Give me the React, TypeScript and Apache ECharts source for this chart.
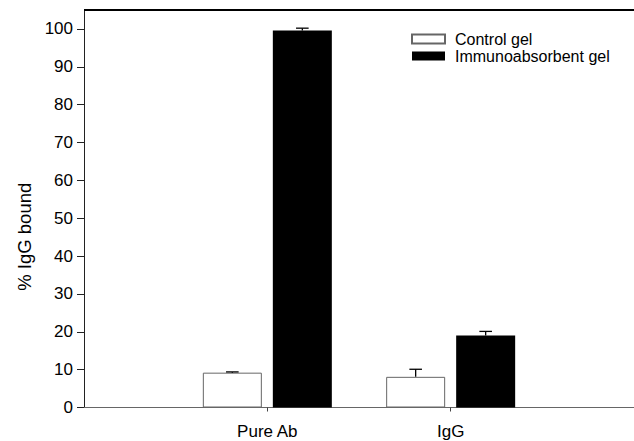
import React, { useEffect, useRef } from "react";
import * as echarts from "echarts";

const categories = ["Pure Ab", "IgG"];
const categoryPositions = [1, 2];
const seriesNames = ["Control gel", "Immunoabsorbent gel"];
const controlValues = [9.2, 8.1];
const controlErrors = [0.2, 2.0];
const immunoValues = [99.6, 19.0];
const immunoErrors = [0.6, 1.1];
const yTicks = [0, 10, 20, 30, 40, 50, 60, 70, 80, 90, 100];

const BAR_WIDTH = 59;
const BAR_GAP_PX = 11;
const OFFSETS = [-(BAR_WIDTH + BAR_GAP_PX) / 2, (BAR_WIDTH + BAR_GAP_PX) / 2];
const FONT = "'Liberation Sans', Arial, Helvetica, sans-serif";

export default function App() {
  const ref = useRef<HTMLDivElement>(null);
  useEffect(() => {
    if (!ref.current) return;
    const chart = echarts.init(ref.current, null, { renderer: "svg" });

    const errData: number[][] = [];
    categoryPositions.forEach((x, i) => {
      errData.push([x, controlValues[i], controlErrors[i], 0]);
      errData.push([x, immunoValues[i], immunoErrors[i], 1]);
    });

    chart.setOption({
      animation: false,
      textStyle: { fontFamily: FONT },
      grid: { left: 84, right: 0, top: 10, bottom: 33.5, containLabel: false, show: false, borderWidth: 0 },
      graphic: [
        {
          type: "rect",
          shape: { x: 615, y: 12, width: 19, height: 393 },
          style: { fill: "#fff" },
          z: 100,
          zlevel: 0,
        },
        {
          type: "line",
          shape: { x1: 84, y1: 10, x2: 634, y2: 10 },
          style: { stroke: "#000", lineWidth: 2 },
          z: 10,
        },
      ],
      legend: {
        orient: "vertical",
        left: 411,
        top: 31,
        padding: 0,
        itemWidth: 33,
        itemHeight: 9,
        itemGap: 1,
        icon: "rect",
        selectedMode: false,
        textStyle: { fontSize: 16, color: "#000", fontFamily: FONT, padding: [0, 0, 0, 5] },
        data: seriesNames,
      },
      xAxis: {
        type: "value",
        min: 0,
        max: 3,
        interval: 1,
        position: "bottom",
        splitLine: { show: false },
        axisLine: { show: true, lineStyle: { color: "#666", width: 1 } },
        axisTick: { show: true, customValues: categoryPositions, length: 4, lineStyle: { color: "#444" } },
        axisLabel: {
          customValues: categoryPositions,
          formatter: (v: number) => categories[categoryPositions.indexOf(Math.round(v))] ?? "",
          fontSize: 17,
          color: "#000",
          margin: 15,
          fontFamily: FONT,
        },
      },
      yAxis: {
        type: "value",
        min: 0,
        max: 105,
        interval: 10,
        splitLine: { show: false },
        name: "% IgG bound",
        nameLocation: "middle",
        nameGap: 46,
        nameTextStyle: { fontSize: 18.5, color: "#000", fontFamily: FONT, padding: [0, 56, 0, 0] },
        axisLine: { show: true, lineStyle: { color: "#222", width: 1 } },
        axisTick: { show: true, customValues: yTicks, length: 7, lineStyle: { color: "#222" } },
        axisLabel: { customValues: yTicks, fontSize: 17, color: "#000", margin: 11, fontFamily: FONT },
      },
      series: [
        {
          name: seriesNames[0],
          type: "bar",
          barWidth: BAR_WIDTH,
          barGap: `${(BAR_GAP_PX / BAR_WIDTH) * 100}%`,
          itemStyle: { color: "#fff", borderColor: "#666", borderWidth: 1 },
          data: categoryPositions.map((x, i) => [x, controlValues[i]]),
          z: 2,
        },
        {
          name: seriesNames[1],
          type: "bar",
          barWidth: BAR_WIDTH,
          barGap: `${(BAR_GAP_PX / BAR_WIDTH) * 100}%`,
          itemStyle: { color: "#000", borderColor: "#000", borderWidth: 0 },
          data: categoryPositions.map((x, i) => [x, immunoValues[i]]),
          z: 2,
        },
        {
          type: "custom",
          z: 5,
          data: errData,
          renderItem: (params: any, api: any) => {
            const x = api.value(0);
            const v = api.value(1);
            const e = api.value(2);
            const k = api.value(3);
            const base = api.coord([x, v]);
            const top = api.coord([x, v + e]);
            const cx = base[0] + OFFSETS[k];
            const cap = 6.3;
            const style = { stroke: "#000", lineWidth: 1.3 };
            return {
              type: "group",
              children: [
                { type: "line", shape: { x1: cx, y1: base[1], x2: cx, y2: top[1] }, style },
                { type: "line", shape: { x1: cx - cap, y1: top[1], x2: cx + cap, y2: top[1] }, style },
              ],
            };
          },
        },
      ],
    });
    return () => chart.dispose();
  }, []);
  return (
    <div
      ref={ref}
      style={{ position: "fixed", left: 0, top: 0, width: 634, height: 441, background: "#fff" }}
    />
  );
}
